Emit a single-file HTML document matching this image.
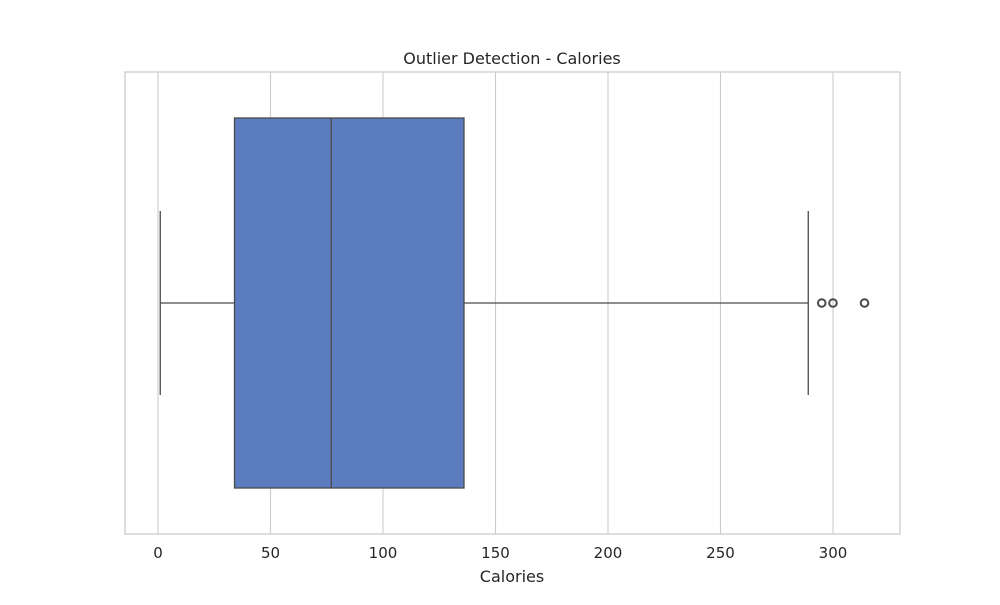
<!DOCTYPE html>
<html><head><meta charset="utf-8"><style>body{margin:0;background:#fff}svg text{font-family:"DejaVu Sans","Liberation Sans",sans-serif;fill:#262626}</style></head>
<body>
<svg id="chart" width="1000" height="600"></svg>
<script>
const ticks=[0,50,100,150,200,250,300];
const stats=[1,34,77,136,289]; // whiskerLow,q1,median,q3,whiskerHigh
const outliers=[295,300,314];
const ns="http://www.w3.org/2000/svg",svg=document.getElementById('chart');
const X=v=>158+v*2.25;
function mk(t,a,p){const e=document.createElementNS(ns,t);for(const k in a)e.setAttribute(k,a[k]);(p||svg).appendChild(e);return e;}
const L=125,R=900,T=72,B=534,CY=303;
for(const t of ticks){
 const g=mk('line',{x1:X(t),x2:X(t),y1:T,y2:B,stroke:'#cccccc','stroke-width':1.1});
 
 
 const tx=mk('text',{x:X(t),y:558,'text-anchor':'middle','font-size':15});tx.textContent=t;
 
 
}
const fr=mk('rect',{x:L,y:T,width:R-L,height:B-T,fill:'none',stroke:'#cccccc','stroke-width':1.3});


const st='#4a4a4a';
const w1=mk('line',{x1:X(stats[0]),x2:X(stats[1]),y1:CY,y2:CY,stroke:st,'stroke-width':1.3});


const w2=mk('line',{x1:X(stats[3]),x2:X(stats[4]),y1:CY,y2:CY,stroke:st,'stroke-width':1.3});


const c1=mk('line',{x1:X(stats[0]),x2:X(stats[0]),y1:211,y2:395,stroke:st,'stroke-width':1.3});


const c2=mk('line',{x1:X(stats[4]),x2:X(stats[4]),y1:211,y2:395,stroke:st,'stroke-width':1.3});


const box=mk('rect',{x:X(stats[1]),y:118,width:X(stats[3])-X(stats[1]),height:370,fill:'#5b7dc0',stroke:st,'stroke-width':1.3});


const md=mk('line',{x1:X(stats[2]),x2:X(stats[2]),y1:118,y2:488,stroke:st,'stroke-width':1.3});


for(const o of outliers){
 const c=mk('circle',{cx:X(o),cy:CY,r:3.8,fill:'none',stroke:st,'stroke-width':2});
 
 
}
const ti=mk('text',{x:512,y:64,'text-anchor':'middle','font-size':16});ti.textContent='Outlier Detection - Calories';


const xl=mk('text',{x:512,y:582,'text-anchor':'middle','font-size':16});xl.textContent='Calories';


</script>
</body></html>
